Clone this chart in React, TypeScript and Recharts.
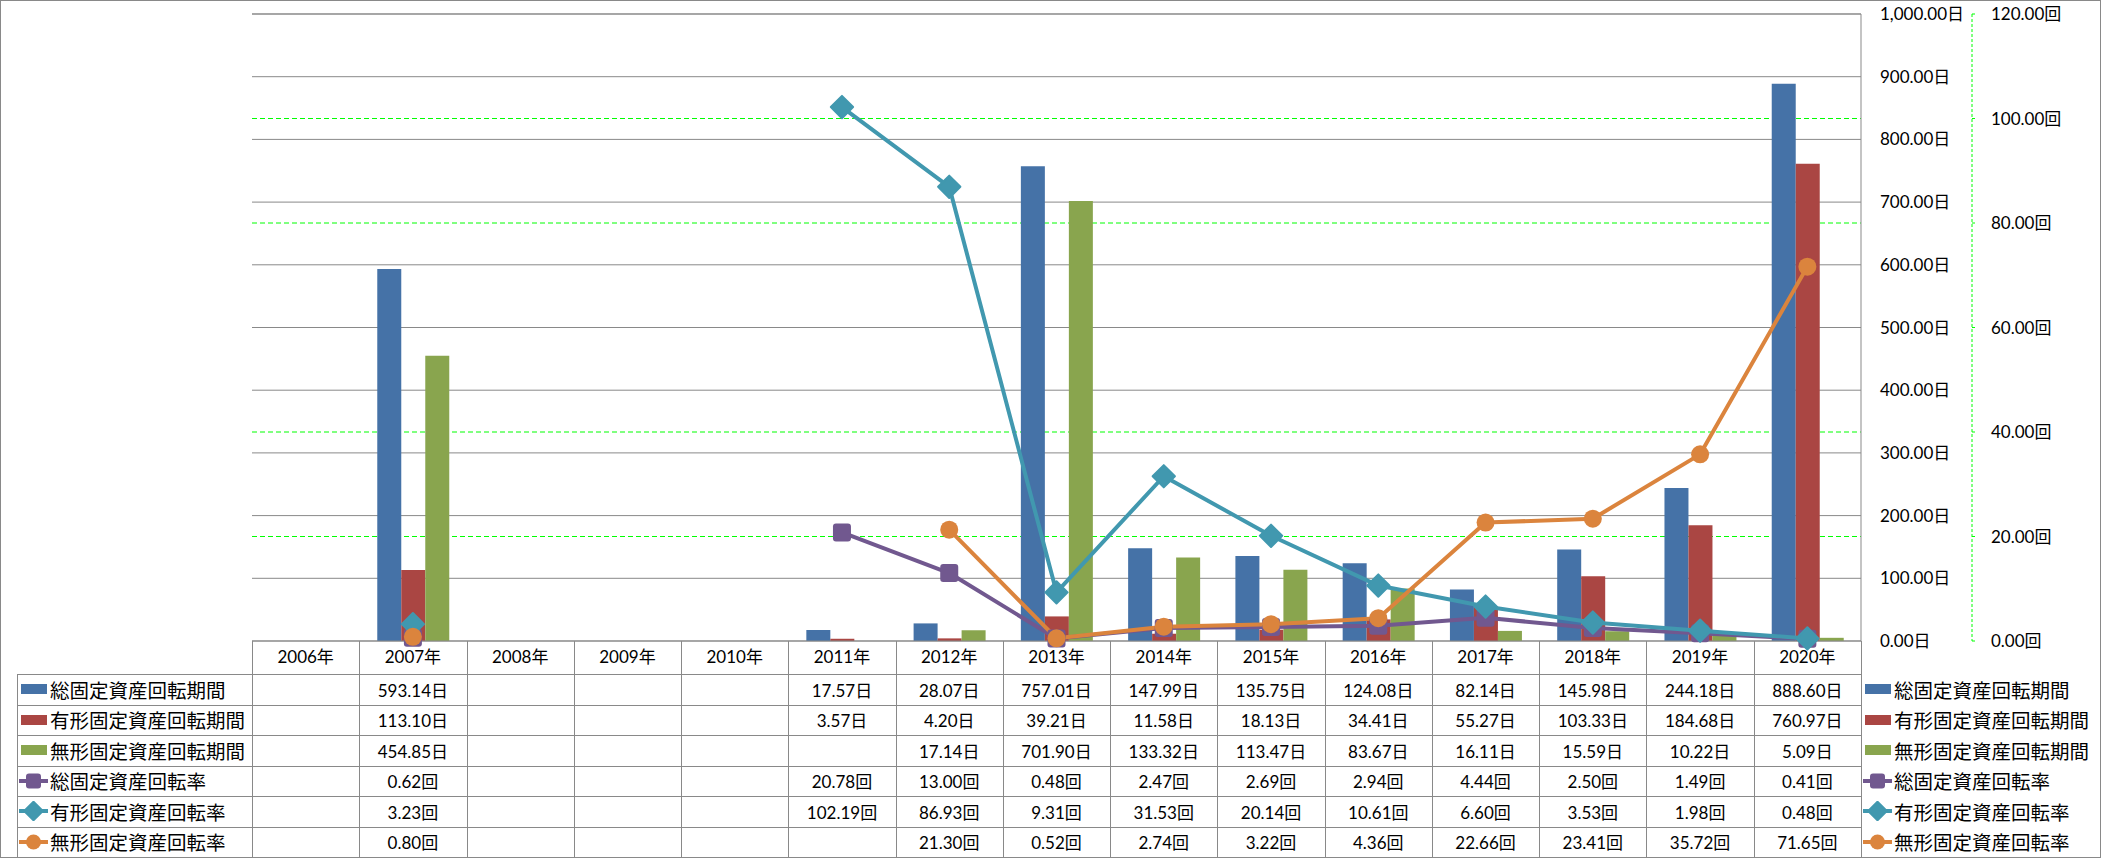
import React from "react";
import { Bar, CartesianGrid, ComposedChart, Line, ReferenceLine, XAxis, YAxis } from "recharts";

const years = [
  "2006年", "2007年", "2008年", "2009年", "2010年", "2011年", "2012年", "2013年",
  "2014年", "2015年", "2016年", "2017年", "2018年", "2019年", "2020年",
];
const totalDays = [null, 593.14, null, null, null, 17.57, 28.07, 757.01, 147.99, 135.75, 124.08, 82.14, 145.98, 244.18, 888.6];
const tangibleDays = [null, 113.1, null, null, null, 3.57, 4.2, 39.21, 11.58, 18.13, 34.41, 55.27, 103.33, 184.68, 760.97];
const intangibleDays = [null, 454.85, null, null, null, null, 17.14, 701.9, 133.32, 113.47, 83.67, 16.11, 15.59, 10.22, 5.09];
const totalRate = [null, 0.62, null, null, null, 20.78, 13.0, 0.48, 2.47, 2.69, 2.94, 4.44, 2.5, 1.49, 0.41];
const tangibleRate = [null, 3.23, null, null, null, 102.19, 86.93, 9.31, 31.53, 20.14, 10.61, 6.6, 3.53, 1.98, 0.48];
const intangibleRate = [null, 0.8, null, null, null, null, 21.3, 0.52, 2.74, 3.22, 4.36, 22.66, 23.41, 35.72, 71.65];
const dayTicks = [0, 100, 200, 300, 400, 500, 600, 700, 800, 900, 1000];
const rateTicks = [0, 20, 40, 60, 80, 100, 120];
const rateGridValues = [20, 40, 60, 80, 100];

type Shape = "bar" | "square" | "diamond" | "circle";
interface Series {
  key: string;
  name: string;
  values: (number | null)[];
  unit: string;
  color: string;
  shape: Shape;
}

const series: Series[] = [
  { key: "totalDays", name: "総固定資産回転期間", values: totalDays, unit: "日", color: "#4572A7", shape: "bar" },
  { key: "tangibleDays", name: "有形固定資産回転期間", values: tangibleDays, unit: "日", color: "#AA4643", shape: "bar" },
  { key: "intangibleDays", name: "無形固定資産回転期間", values: intangibleDays, unit: "日", color: "#89A54E", shape: "bar" },
  { key: "totalRate", name: "総固定資産回転率", values: totalRate, unit: "回", color: "#71588F", shape: "square" },
  { key: "tangibleRate", name: "有形固定資産回転率", values: tangibleRate, unit: "回", color: "#4198AF", shape: "diamond" },
  { key: "intangibleRate", name: "無形固定資産回転率", values: intangibleRate, unit: "回", color: "#DB843D", shape: "circle" },
];

const data = years.map((year, i) => {
  const row: Record<string, string | number | null> = { year };
  series.forEach((s) => (row[s.key] = s.values[i]));
  return row;
});

const W = 2101;
const H = 858;
const PLOT_LEFT = 252;
const PLOT_RIGHT = 1861;
const PLOT_TOP = 14;
const PLOT_BOTTOM = 641;
const COL_W = (PLOT_RIGHT - PLOT_LEFT) / years.length;
const TABLE_LEFT = 17;
const TABLE_TOP = 674;
const ROW_H = 30.5;
const GRID = "#898989";
const FONT = "Lato, 'Noto Sans CJK JP', sans-serif";

const fmt = (v: number) =>
  v.toLocaleString("en-US", { minimumFractionDigits: 2, maximumFractionDigits: 2 });

function MarkerShape({ shape, cx, cy, color, size }: { shape: Shape; cx: number; cy: number; color: string; size: number }) {
  if (shape === "square") {
    return <rect x={cx - size / 2} y={cy - size / 2} width={size} height={size} rx={3} fill={color} />;
  }
  if (shape === "diamond") {
    const h = size * 0.62;
    return (
      <polygon
        points={`${cx},${cy - h} ${cx + h},${cy} ${cx},${cy + h} ${cx - h},${cy}`}
        fill={color}
        stroke={color}
        strokeWidth={2}
        strokeLinejoin="round"
      />
    );
  }
  return <circle cx={cx} cy={cy} r={size / 2} fill={color} />;
}

function dotRenderer(s: Series) {
  return (props: any) => {
    const { cx, cy, index } = props;
    if (cx == null || cy == null || Number.isNaN(cy) || s.values[index] == null) {
      return <g key={`${s.key}-${index}`} />;
    }
    return <MarkerShape key={`${s.key}-${index}`} shape={s.shape} cx={cx} cy={cy} color={s.color} size={18} />;
  };
}

function LegendIcon({ s }: { s: Series }) {
  if (s.shape === "bar") {
    return (
      <svg width={29} height={12} style={{ display: "block" }}>
        <rect x={2} y={1} width={26} height={10} fill={s.color} />
      </svg>
    );
  }
  return (
    <svg width={29} height={20} style={{ display: "block" }}>
      <line x1={0} y1={10} x2={29} y2={10} stroke={s.color} strokeWidth={4} />
      <MarkerShape shape={s.shape} cx={14.5} cy={10} color={s.color} size={15} />
    </svg>
  );
}

function hLine(key: string, x1: number, x2: number, y: number) {
  return <div key={key} style={{ position: "absolute", left: x1, top: Math.round(y), width: x2 - x1 + 1, height: 1, background: GRID }} />;
}

function vLine(key: string, x: number, y1: number, y2: number) {
  return <div key={key} style={{ position: "absolute", left: Math.round(x), top: y1, width: 1, height: y2 - y1, background: GRID }} />;
}

function DataTable() {
  const bottom = TABLE_TOP + ROW_H * series.length;
  const lines = [];
  for (let i = 0; i <= years.length; i++) lines.push(vLine(`c${i}`, PLOT_LEFT + i * COL_W, PLOT_BOTTOM, bottom));
  lines.push(vLine("tl", TABLE_LEFT, TABLE_TOP, bottom));
  for (let r = 0; r <= series.length; r++) lines.push(hLine(`r${r}`, TABLE_LEFT, PLOT_RIGHT, TABLE_TOP + r * ROW_H));

  const cells = [];
  series.forEach((s, r) => {
    const top = TABLE_TOP + r * ROW_H;
    cells.push(
      <div key={`lg${r}`} style={{ position: "absolute", left: TABLE_LEFT + 2, top, height: ROW_H, display: "flex", alignItems: "center", gap: 2 }}>
        <LegendIcon s={s} />
        <span style={{ fontSize: 19.5, whiteSpace: "nowrap" }}>{s.name}</span>
      </div>
    );
    cells.push(
      <div key={`rl${r}`} style={{ position: "absolute", left: PLOT_RIGHT + 2, top, height: ROW_H, display: "flex", alignItems: "center", gap: 2 }}>
        <LegendIcon s={s} />
        <span style={{ fontSize: 19.5, whiteSpace: "nowrap" }}>{s.name}</span>
      </div>
    );
    s.values.forEach((v, i) => {
      if (v == null) return;
      cells.push(
        <div
          key={`v${r}-${i}`}
          style={{
            position: "absolute",
            left: PLOT_LEFT + i * COL_W,
            width: COL_W,
            top,
            height: ROW_H,
            display: "flex",
            alignItems: "center",
            justifyContent: "center",
            fontSize: 17,
            whiteSpace: "nowrap",
          }}
        >
          {fmt(v)}
          {s.unit}
        </div>
      );
    });
  });

  return (
    <>
      {lines}
      {cells}
    </>
  );
}

export default function App() {
  const bars = series.filter((s) => s.shape === "bar");
  const lines = series.filter((s) => s.shape !== "bar");
  return (
    <div
      style={{
        position: "absolute",
        left: 0,
        top: 0,
        width: W,
        height: H,
        boxSizing: "border-box",
        border: `1px solid ${GRID}`,
        background: "#fff",
        fontFamily: FONT,
        color: "#000",
        overflow: "hidden",
      }}
    >
      <div style={{ position: "absolute", left: -1, top: -1 }}>
        <ComposedChart
          width={W}
          height={H}
          data={data}
          barGap={0}
          margin={{ top: PLOT_TOP, right: 2, left: PLOT_LEFT, bottom: H - PLOT_BOTTOM - 33 }}
        >
          <CartesianGrid
            yAxisId="rate"
            vertical={false}
            horizontalValues={rateGridValues}
            stroke="#00FF00"
            strokeDasharray="5 3"
          />
          <CartesianGrid yAxisId="days" vertical={false} horizontalValues={dayTicks} stroke={GRID} />
          <XAxis
            dataKey="year"
            height={33}
            axisLine={false}
            tickLine={false}
            tickSize={0}
            tickMargin={10}
            interval={0}
            tick={{ fontSize: 17, fill: "#000", fontFamily: FONT }}
          />
          <YAxis
            yAxisId="days"
            orientation="right"
            width={111}
            domain={[0, 1000]}
            ticks={dayTicks}
            interval={0}
            axisLine={{ stroke: GRID }}
            tickLine={false}
            tickSize={0}
            tickMargin={19}
            tickFormatter={(v: number) => `${fmt(v)}日`}
            tick={{ fontSize: 17, fill: "#000", fontFamily: FONT, textAnchor: "start" }}
          />
          <YAxis
            yAxisId="rate"
            orientation="right"
            width={127}
            domain={[0, 120]}
            ticks={rateTicks}
            interval={0}
            axisLine={{ stroke: "#00FF00", strokeDasharray: "3 2" }}
            tickLine={{ stroke: "#00FF00" }}
            tickSize={3}
            tickMargin={16}
            tickFormatter={(v: number) => `${fmt(v)}回`}
            tick={{ fontSize: 17, fill: "#000", fontFamily: FONT, textAnchor: "start" }}
          />
          <ReferenceLine yAxisId="days" y={1000} stroke={GRID} strokeWidth={1} ifOverflow="visible" />
          {bars.map((s) => (
            <Bar key={s.key} yAxisId="days" dataKey={s.key} name={s.name} fill={s.color} barSize={24} isAnimationActive={false} />
          ))}
          <ReferenceLine yAxisId="days" y={0} stroke={GRID} strokeWidth={1} ifOverflow="visible" />
          {lines.map((s) => (
            <Line
              key={s.key}
              yAxisId="rate"
              type="linear"
              dataKey={s.key}
              name={s.name}
              stroke={s.color}
              strokeWidth={4}
              strokeLinejoin="round"
              dot={dotRenderer(s)}
              activeDot={false}
              connectNulls={false}
              isAnimationActive={false}
            />
          ))}
        </ComposedChart>
      </div>
      <div style={{ position: "absolute", left: -1, top: -1 }}>
        <DataTable />
      </div>
    </div>
  );
}
